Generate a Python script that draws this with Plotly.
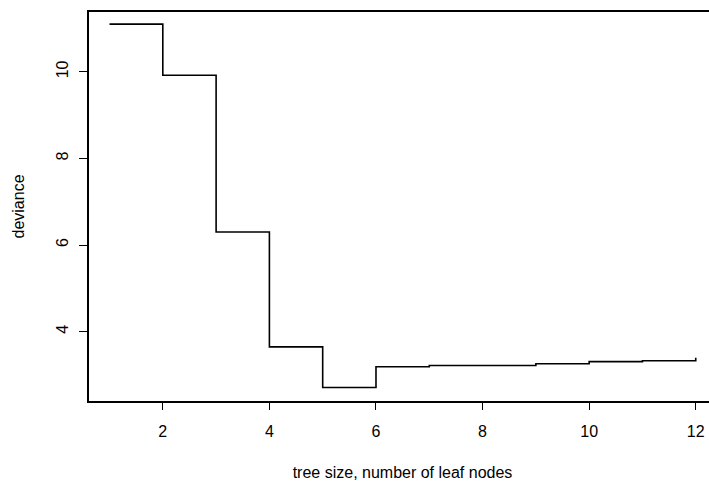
import plotly.graph_objects as go

# tree size vs cross-validated deviance
tree_size = [1, 2, 3, 4, 5, 6, 7, 8, 9, 10, 11, 12]
deviance = [11.10, 9.92, 6.30, 3.65, 2.71, 3.19, 3.22, 3.22, 3.26, 3.31, 3.33, 3.40]
x_ticks = [2, 4, 6, 8, 10, 12]
y_ticks = [4, 6, 8, 10]

fig = go.Figure()

# step line, like R's type="s"
fig.add_trace(go.Scatter(x=tree_size, y=deviance, mode='lines',
                         line=dict(color='black', width=1.6, shape='hv'),
                         showlegend=False, hoverinfo='skip'))

font = dict(family='Liberation Sans, Arial, sans-serif', color='black')

# the scan cuts the box off on the right, so the figure runs a bit past the window
fig.update_layout(width=716, height=481,
                  margin=dict(l=89, r=0, t=12, b=80),
                  paper_bgcolor='white', plot_bgcolor='white',
                  font=dict(**font, size=16))

fig.update_xaxes(range=[0.615, 12.38], tickvals=x_ticks, ticks='outside', ticklen=7,
                 tickwidth=1.2, tickcolor='black', showgrid=False, zeroline=False,
                 showline=True, linecolor='black', linewidth=1.6, mirror=True,
                 automargin=False, tickfont=dict(size=16), ticklabelstandoff=8,
                 title=dict(text='tree size, number of leaf nodes', font=dict(size=16), standoff=28))
fig.update_yaxes(range=[2.40, 11.38], tickvals=y_ticks, ticks='outside', ticklen=8,
                 tickwidth=1.2, tickcolor='black', showgrid=False, zeroline=False,
                 showline=True, linecolor='black', linewidth=1.6, mirror=False,
                 automargin=False, tickangle=-90, tickfont=dict(size=16), ticklabelstandoff=5,
                 title=dict(text='deviance', font=dict(size=16), standoff=25))

# drop the default body margin so the figure sits at the window's corner
fig.write_html("out.html", config={'displayModeBar': False},
               post_script="document.body.style.margin='0';document.body.style.overflow='hidden';")
